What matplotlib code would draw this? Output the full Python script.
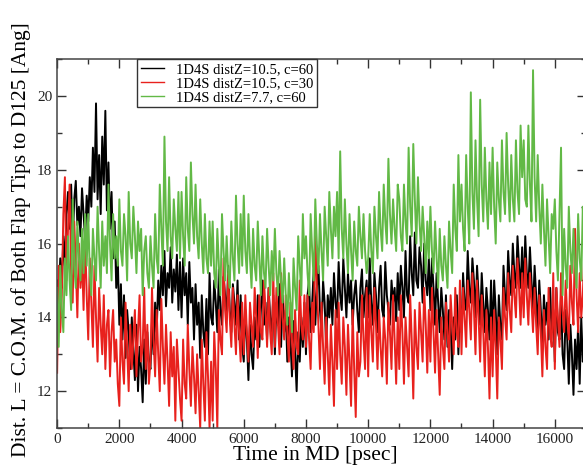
import numpy as np
import matplotlib.pyplot as plt
from matplotlib.ticker import MultipleLocator

plt.rcParams['font.family'] = ['Liberation Serif', 'DejaVu Serif']

# time axis in psec, one sample every 50 psec
t = np.arange(0, 17001, 50)

# 1D4S distZ=10.5, c=60 (black), one row = 1000 psec
dist_c60 = [
    15.0, 14.4, 15.6, 14.8, 16.2, 15.4, 16.8, 17.4, 16.4, 17.6, 16.0, 17.2, 17.7, 16.5, 17.0, 16.2, 17.5, 16.8, 16.1, 17.3,
    16.6, 17.8, 17.0, 18.6, 17.4, 19.8, 17.2, 18.4, 16.8, 18.9, 17.6, 19.6, 16.9, 18.2, 16.4, 17.4, 15.6, 16.6, 14.8, 15.6,
    13.8, 14.9, 13.4, 14.6, 12.9, 14.2, 13.6, 12.6, 14.0, 13.1, 12.3, 13.8, 12.0, 13.2, 12.6, 11.7, 13.4, 12.2, 13.6, 12.8,
    12.6, 13.9, 13.0, 14.4, 13.6, 15.0, 14.2, 15.4, 14.6, 15.8, 14.3, 15.2, 14.8, 15.9, 14.4, 15.3, 14.7, 15.7, 14.2, 15.5,
    14.0, 15.6, 14.6, 15.2, 13.8, 15.5, 14.4, 14.8, 13.4, 14.9, 13.8, 14.4, 12.9, 14.6, 13.6, 13.2, 14.5, 13.0, 15.2, 14.0,
    13.8, 15.0, 14.4, 13.6, 15.3, 14.2, 13.8, 15.1, 14.6, 14.0, 15.4, 14.2, 13.6, 14.9, 14.4, 13.8, 15.0, 13.4, 14.6, 13.2,
    12.8, 14.2, 13.4, 12.3, 13.8, 13.0, 12.6, 14.0, 13.4, 14.6, 13.2, 14.2, 15.0, 13.8, 14.4, 13.4, 14.8, 14.0, 13.6, 14.6,
    13.0, 14.4, 13.8, 14.9, 13.2, 14.6, 13.6, 14.2, 12.8, 14.0, 13.4, 12.4, 13.9, 13.0, 12.0, 13.6, 12.8, 14.0, 13.2, 14.4,
    13.0, 14.6, 15.0, 13.6, 14.4, 15.3, 13.8, 14.8, 15.4, 14.2, 13.6, 15.0, 14.4, 13.2, 14.6, 14.0, 14.8, 13.8, 15.2, 14.4,
    14.0, 15.5, 14.6, 14.2, 15.6, 14.8, 14.0, 15.2, 14.4, 15.0, 13.8, 14.6, 15.0, 14.2, 13.6, 14.8, 15.3, 14.0, 14.6, 15.0,
    14.0, 15.6, 14.4, 13.8, 15.2, 14.6, 13.6, 14.8, 15.4, 14.2, 14.0, 15.5, 14.6, 14.2, 13.8, 15.0, 14.4, 14.8, 13.9, 15.2,
    14.2, 15.4, 14.8, 14.0, 15.8, 14.6, 14.4, 16.2, 15.2, 14.6, 16.3, 15.0, 14.8, 15.9, 15.4, 14.4, 16.0, 15.0, 14.6, 15.6,
    14.2, 15.6, 14.8, 13.8, 15.2, 14.4, 13.6, 14.8, 14.2, 13.4, 14.6, 13.2, 14.2, 13.8, 12.6, 14.0, 13.4, 14.6, 13.0, 14.4,
    13.6, 15.2, 14.4, 14.2, 15.8, 14.8, 14.4, 15.6, 15.0, 14.0, 15.4, 14.6, 13.8, 15.2, 14.4, 13.6, 14.8, 14.2, 13.4, 15.0,
    13.4, 15.0, 14.2, 13.0, 14.6, 13.8, 13.4, 15.4, 14.6, 14.2, 15.8, 15.0, 14.6, 16.0, 15.2, 14.8, 16.2, 15.4, 14.8, 15.9,
    14.6, 16.2, 15.2, 14.8, 15.9, 15.0, 14.2, 15.4, 14.6, 13.6, 15.0, 14.2, 13.2, 14.6, 13.8, 14.4, 13.4, 14.8, 13.6, 14.2,
    12.8, 14.8, 13.6, 13.4, 14.6, 13.0, 12.6, 14.2, 13.4, 12.2, 13.8, 13.0, 11.9, 13.4, 12.6, 13.8, 12.2, 14.0, 12.8, 13.2,
    12.4,
]

# 1D4S distZ=10.5, c=30 (red)
dist_c30 = [
    12.5, 15.4, 13.6, 14.6, 16.8, 17.8, 15.0, 16.4, 17.6, 15.2, 14.4, 16.6, 15.4, 14.0, 16.0, 14.8, 15.6, 14.2, 16.2, 14.6,
    13.4, 15.6, 14.4, 13.2, 15.4, 14.0, 12.8, 14.8, 13.8, 13.0, 14.6, 12.6, 13.8, 14.2, 12.4, 13.6, 14.2, 12.8, 13.4, 12.2,
    11.6, 14.0, 12.8, 12.2, 14.4, 13.2, 12.0, 13.8, 12.6, 13.4, 14.2, 12.4, 13.6, 14.6, 12.8, 13.2, 14.8, 12.6, 13.8, 12.2,
    12.8, 14.8, 13.4, 12.4, 14.2, 13.0, 12.0, 14.5, 13.2, 12.2, 13.8, 12.8, 11.6, 13.6, 12.4, 13.2, 11.2, 13.4, 12.6, 11.8,
    11.2, 13.4, 12.2, 11.8, 13.8, 12.6, 11.6, 13.2, 12.4, 11.4, 13.0, 12.0, 11.0, 13.4, 12.2, 11.2, 13.6, 12.4, 11.0, 12.8,
    11.2, 13.6, 12.6, 11.0, 14.2, 13.4, 13.0, 15.6, 14.2, 13.6, 15.2, 14.0, 13.2, 14.8, 13.8, 13.0, 14.6, 13.6, 12.8, 14.4,
    13.0, 14.6, 13.6, 12.8, 14.4, 13.8, 13.2, 14.8, 14.0, 12.9, 14.6, 13.6, 13.4, 15.0, 14.2, 13.2, 14.8, 13.6, 13.0, 15.2,
    13.2, 14.8, 13.8, 13.0, 15.2, 14.0, 13.4, 14.6, 13.6, 12.8, 14.4, 13.4, 12.6, 14.2, 13.2, 13.0, 15.0, 13.8, 13.4, 14.6,
    13.2, 14.6, 13.4, 12.6, 14.4, 13.6, 16.5, 14.8, 13.8, 12.6, 14.4, 13.2, 12.2, 14.0, 13.0, 11.9, 13.8, 12.8, 11.6, 14.2,
    12.6, 14.4, 13.0, 12.2, 14.0, 13.2, 11.9, 13.8, 12.8, 11.6, 14.2, 12.6, 11.3, 13.6, 12.4, 12.8, 14.6, 13.4, 12.6, 14.8,
    12.4, 14.6, 13.6, 12.8, 14.8, 13.8, 12.6, 14.2, 13.2, 12.4, 14.0, 13.4, 12.2, 14.4, 13.6, 12.6, 14.6, 13.4, 12.2, 14.0,
    12.6, 14.6, 13.6, 12.2, 14.0, 13.2, 12.4, 14.6, 13.4, 11.8, 14.2, 13.2, 12.6, 14.4, 13.6, 12.8, 14.8, 13.8, 12.5, 14.2,
    12.8, 14.8, 13.6, 12.5, 14.2, 13.0, 11.9, 14.0, 13.2, 12.6, 14.4, 13.6, 12.8, 14.6, 13.8, 13.0, 14.8, 13.6, 13.2, 15.0,
    13.0, 14.8, 14.0, 13.2, 15.0, 14.2, 13.4, 15.2, 14.2, 13.0, 15.0, 14.0, 12.8, 14.6, 13.6, 12.4, 14.2, 13.2, 11.8, 14.0,
    12.4, 14.2, 13.2, 11.8, 14.0, 13.4, 12.6, 14.8, 14.0, 13.4, 15.2, 14.2, 13.6, 15.4, 14.6, 14.0, 15.6, 14.8, 13.8, 15.2,
    14.0, 15.6, 14.6, 13.8, 15.2, 14.4, 13.6, 14.8, 13.8, 13.0, 14.6, 13.6, 12.4, 14.2, 13.2, 12.6, 14.8, 13.6, 13.2, 15.2,
    12.6, 14.8, 14.0, 13.2, 15.2, 14.2, 13.6, 15.0, 14.0, 13.4, 15.4, 14.4, 13.8, 16.4, 14.6, 13.6, 15.2, 14.0, 14.6, 15.8,
    14.2,
]

# 1D4S distZ=7.7, c=60 (green)
dist_z77 = [
    14.8, 13.2, 15.4, 14.2, 13.6, 15.6, 14.6, 16.2, 15.0, 14.2, 17.2, 15.4, 14.8, 16.6, 15.6, 15.0, 16.4, 15.2, 16.8, 15.4,
    16.8, 15.2, 14.6, 16.4, 15.6, 15.0, 17.0, 15.8, 14.8, 16.6, 15.4, 16.2, 15.2, 17.6, 16.0, 15.0, 16.8, 15.6, 16.2, 15.4,
    17.2, 15.8, 15.4, 16.8, 16.2, 15.0, 17.4, 16.0, 15.6, 17.0, 16.2, 15.2, 16.6, 15.8, 16.4, 14.6, 15.8, 16.2, 15.2, 14.8,
    16.2, 15.4, 14.8, 16.8, 15.6, 15.2, 17.6, 16.4, 15.4, 18.9, 16.6, 15.8, 17.8, 16.2, 15.6, 17.2, 16.4, 15.8, 17.4, 15.6,
    17.4, 16.2, 15.4, 17.8, 16.4, 15.8, 18.2, 16.8, 16.0, 17.6, 16.2, 15.6, 17.2, 16.0, 15.2, 16.8, 15.6, 15.2, 16.6, 15.4,
    16.6, 15.2, 14.8, 16.4, 15.4, 14.6, 16.8, 15.8, 15.0, 16.2, 15.2, 14.8, 16.6, 15.6, 15.0, 17.3, 16.0, 15.2, 16.8, 15.4,
    17.3, 15.8, 15.2, 16.8, 15.6, 14.8, 16.4, 15.4, 15.0, 16.6, 15.6, 14.6, 16.2, 15.2, 14.8, 16.4, 15.4, 14.6, 15.8, 15.0,
    16.4, 15.2, 14.6, 15.8, 15.0, 14.4, 15.6, 14.6, 13.8, 15.2, 14.4, 13.6, 15.6, 14.8, 14.2, 16.2, 15.4, 14.6, 16.8, 15.6,
    16.2, 15.2, 14.6, 16.8, 15.8, 15.0, 17.2, 16.0, 15.2, 16.8, 15.8, 15.0, 17.0, 16.2, 15.4, 17.4, 16.4, 15.6, 17.0, 16.2,
    17.4, 15.6, 18.5, 16.4, 15.6, 17.2, 16.0, 15.2, 16.8, 15.8, 15.0, 16.6, 15.8, 15.4, 17.0, 16.2, 15.6, 16.8, 15.8, 15.2,
    15.6, 16.8, 15.8, 15.2, 17.0, 16.2, 15.6, 17.4, 16.4, 15.8, 17.6, 16.6, 16.0, 18.3, 16.8, 16.0, 17.2, 16.4, 15.8, 17.6,
    17.2, 16.2, 15.8, 17.6, 16.6, 16.0, 18.6, 17.0, 16.2, 18.7, 17.2, 16.0, 17.8, 16.6, 15.8, 17.0, 16.2, 15.2, 16.6, 15.6,
    17.0, 15.8, 15.2, 16.6, 15.6, 14.8, 16.4, 15.4, 15.0, 16.2, 15.4, 14.8, 16.6, 15.8, 15.2, 17.6, 16.4, 15.8, 18.4, 16.6,
    17.6, 16.4, 15.8, 18.4, 17.0, 16.0, 20.1, 17.4, 16.4, 18.8, 17.2, 16.2, 19.9, 17.6, 16.6, 18.6, 17.2, 16.4, 18.2, 16.8,
    18.6, 17.0, 16.0, 18.2, 17.2, 16.6, 18.8, 17.4, 16.8, 19.0, 17.6, 16.6, 18.4, 17.2, 16.6, 18.8, 17.4, 16.8, 19.2, 17.8,
    18.8, 17.2, 17.0, 19.2, 17.6, 16.6, 20.7, 17.8, 16.6, 18.4, 17.0, 16.0, 17.6, 16.4, 15.4, 17.2, 16.2, 15.2, 16.8, 16.4,
    17.2, 15.8, 15.0, 16.8, 18.6, 14.6, 16.4, 15.4, 14.8, 17.0, 15.8, 15.2, 16.4, 15.4, 14.8, 16.8, 15.6, 15.0, 17.0, 15.8,
    16.4,
]

fig = plt.figure(figsize=(5.83, 4.73), dpi=100)
ax = fig.add_axes([0.098, 0.095, 0.907, 0.78])

ax.plot(t, dist_c60, color='black', lw=1.4, label='1D4S distZ=10.5, c=60')
ax.plot(t, dist_c30, color='#e8211d', lw=1.4, label='1D4S distZ=10.5, c=30')
ax.plot(t, dist_z77, color='#62b946', lw=1.4, label='1D4S distZ=7.7, c=60')

ax.set_xlim(0, 17000)
ax.set_ylim(11, 21)
ax.xaxis.set_major_locator(MultipleLocator(2000))
ax.xaxis.set_minor_locator(MultipleLocator(1000))
ax.yaxis.set_major_locator(MultipleLocator(2))
ax.yaxis.set_minor_locator(MultipleLocator(1))
ax.tick_params(which='both', direction='in', top=True, right=True,
               color='#333333', labelsize=11, labelcolor='#222222')
ax.tick_params(which='major', length=6.5, width=1)
ax.tick_params(which='minor', length=3.5, width=1)
for s in ax.spines.values():
    s.set_color('#444444')
    s.set_linewidth(1.1)

fig.text(0.540, 0.038, 'Time in MD [psec]', ha='center', va='center', fontsize=15.5)
fig.text(0.036, 0.493, 'Dist. L = C.O.M. of Both Flap Tips to D125 [Ang]',
         rotation=90, ha='center', va='center', fontsize=15.5)

leg = ax.legend(loc='upper left', bbox_to_anchor=(0.151, 1.0), fontsize=10.5,
                frameon=True, fancybox=False, framealpha=1, borderpad=0.25,
                labelspacing=0.05, handlelength=1.6, handletextpad=0.8,
                borderaxespad=0)
leg.get_frame().set_edgecolor('#333333')
leg.get_frame().set_linewidth(1.0)
for line in leg.get_lines():
    line.set_linewidth(1.0)

fig.savefig('out.png', dpi=100)
